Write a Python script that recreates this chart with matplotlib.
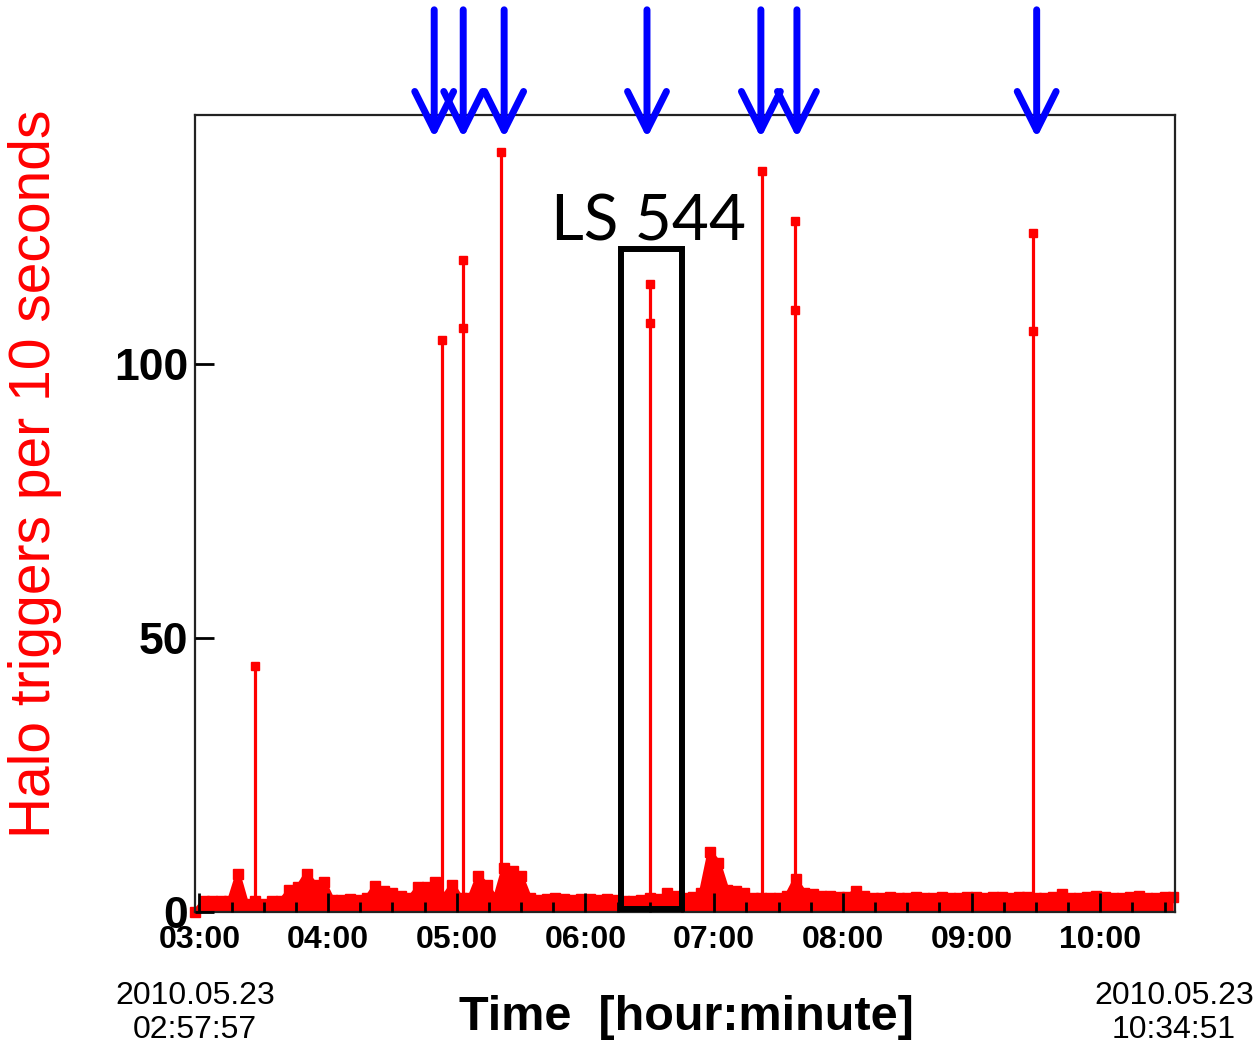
import numpy as np
import matplotlib
matplotlib.use('Agg')
import matplotlib.pyplot as plt
from matplotlib.patches import Rectangle
from matplotlib.ticker import FixedLocator, MultipleLocator

plt.rcParams['font.family'] = ['Liberation Sans', 'DejaVu Sans']

# time axis in hours, run from 2010.05.23 02:57:57 to 10:34:51
t_start = 2 + 57 / 60 + 57 / 3600
t_end = 10 + 34 / 60 + 51 / 3600

# baseline halo rate, one value every 4 minutes starting at 02:58
base_t0 = 2 + 58 / 60
base_vals = [0, 2, 2, 2, 2, 7, 1.5, 2, 1.5, 2,
             2, 4, 4.5, 7, 5, 5.5, 2.2, 2.2, 2.3, 2.2,
             2.5, 4.8, 3.8, 3.4, 3, 2.5, 4.5, 4.6, 5.4, 2.8,
             5, 2.5, 2.5, 6.5, 5, 2.5, 8, 7.5, 6.5, 2.5,
             2.2, 2.3, 2.5, 2.3, 2.2, 2.3, 2.3, 2.2, 2.3, 2.2,
             2, 2, 2.2, 2.5, 2.3, 3.4, 3, 2.6, 2.8, 3.5,
             11, 9, 4, 3.8, 3.5, 2.5, 2.5, 2.5, 2.5, 3,
             6, 3.5, 3.2, 3, 3, 2.8, 2.8, 3.8, 3, 2.5,
             2.6, 2.8, 2.6, 2.5, 2.7, 2.6, 2.6, 2.8, 2.6, 2.5,
             2.8, 2.7, 2.6, 2.8, 2.7, 2.5, 2.8, 2.7, 2.6, 2.5,
             2.7, 3.2, 2.6, 2.5, 2.8, 2.9, 2.7, 2.6, 2.6, 2.8,
             2.9, 2.5, 2.6, 2.7, 2.8]

# single-bin bursts (hours, counts)
spike_t = [3.432, 4.887, 5.047, 5.347, 6.504, 7.371, 7.625, 9.481]
spike_peak = [44.9, 104.4, 119.1, 138.8, 114.7, 135.2, 126.1, 124.0]
spike_second = [None, None, 106.6, None, 107.5, None, 109.9, 106.0]

# beam-loss arrows on top
arrow_t = [4.8245, 5.05, 5.368, 6.478, 7.363, 7.643, 9.506]

# LS 544 window
ls_box = (6.276, 6.75)
ls_box_top = 121

hour_ticks = [3, 4, 5, 6, 7, 8, 9, 10]
hour_labels = ['03:00', '04:00', '05:00', '06:00', '07:00', '08:00', '09:00', '10:00']

red = '#ff0000'

fig = plt.figure(figsize=(12.59, 10.49), dpi=100)
ax = fig.add_axes([195 / 1259, 1 - 912 / 1049, 980 / 1259, 797 / 1049])

base_t = base_t0 + np.arange(len(base_vals)) / 15
ax.fill_between(base_t, 0, base_vals, color=red, lw=0, zorder=1)
ax.plot(base_t, base_vals, color=red, lw=3.5, marker='s', ms=7.5,
        clip_on=False, zorder=2)

ax.vlines(spike_t, 0, spike_peak, color=red, lw=2.3, zorder=2)
ax.plot(spike_t, spike_peak, 's', color=red, ms=6, lw=0, zorder=2)
sec_t = [t for t, v in zip(spike_t, spike_second) if v is not None]
sec_v = [v for v in spike_second if v is not None]
ax.plot(sec_t, sec_v, 's', color=red, ms=6, lw=0, zorder=2)

ax.add_patch(Rectangle((ls_box[0], 0.5), ls_box[1] - ls_box[0], ls_box_top - 0.5,
                       fill=False, ec='black', lw=4.3, zorder=3))
ax.text(6.49, ls_box_top + 1.5, 'LS 544', family='Lato',
        fontsize=46, ha='center', va='baseline', color='black')

for t in arrow_t:
    ax.annotate('', xy=(t, 0.971), xytext=(t, 1.132),
                xycoords=('data', 'axes fraction'),
                textcoords=('data', 'axes fraction'),
                arrowprops=dict(arrowstyle='->,head_length=2.8,head_width=1.4',
                                color='#0000ff', lw=5, shrinkA=0, shrinkB=0),
                annotation_clip=False, zorder=5)

ax.set_xlim(t_start, t_end)
ax.set_ylim(0, 145.5)
ax.xaxis.set_major_locator(FixedLocator(hour_ticks))
ax.set_xticklabels(hour_labels)
ax.xaxis.set_minor_locator(MultipleLocator(0.25))
ax.set_yticks([0, 50, 100])
ax.set_yticklabels(['0', '50', '100'])
ax.set_axisbelow(False)

ax.tick_params(axis='x', which='major', direction='in', length=14, width=2,
               labelsize=23, pad=9)
ax.tick_params(axis='x', which='minor', direction='in', length=7, width=2)
ax.tick_params(axis='y', which='major', direction='in', length=14, width=2,
               labelsize=32, pad=5)
for lab in ax.get_xticklabels() + ax.get_yticklabels():
    lab.set_fontweight('bold')
for s in ax.spines.values():
    s.set_linewidth(1.6)
    s.set_color('#222222')

fig.text(35 / 1259, 1 - 474 / 1049, 'Halo triggers per 10 seconds', rotation=90,
         color=red, fontsize=41, ha='center', va='center')
fig.text(686 / 1259, 1 - 1017 / 1049, 'Time  [hour:minute]', fontsize=35,
         fontweight='bold', ha='center', va='center')
fig.text(195 / 1259, 1 - 1013 / 1049, '2010.05.23\n02:57:57', fontsize=23,
         ha='center', va='center', linespacing=1.15)
fig.text(1174 / 1259, 1 - 1013 / 1049, '2010.05.23\n10:34:51', fontsize=23,
         ha='center', va='center', linespacing=1.15)

fig.savefig('out.png', dpi=100)
